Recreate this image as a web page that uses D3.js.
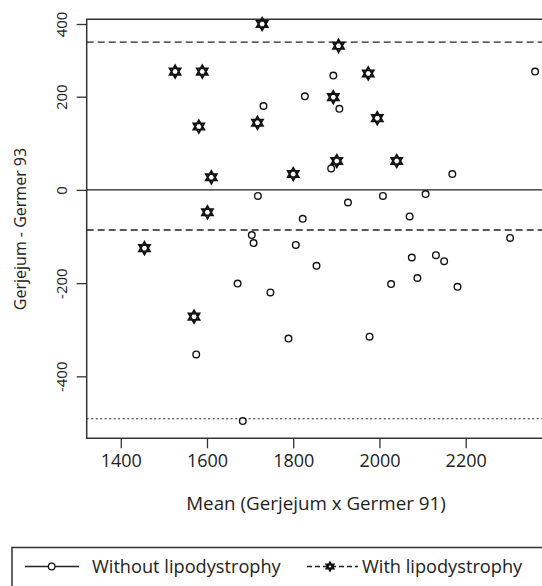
<!DOCTYPE html>
<html lang="en">
<head>
    <meta charset="UTF-8">
    <title>Bland-Altman: Gerjejum vs Germer</title>
    <script src="https://cdnjs.cloudflare.com/ajax/libs/d3/7.8.5/d3.min.js"></script>
    <style>
        body {
            margin: 0;
            overflow: hidden;
            background: #fff;
            font-family: "Open Sans", sans-serif;
        }
    </style>
</head>
<body>
    <script>
        const width = 542;
        const height = 586;

        // Without lipodystrophy: [mean, difference]
        const withoutMean = [1731, 1718, 1704, 1708, 1893, 1827, 1907, 2361, 1888, 2169,
                             2008, 2107, 1927, 1822, 2070, 2303, 1806, 2075, 2131, 2150,
                             1854, 2088, 1671, 1747, 1575, 1683, 1789, 1977, 2027, 2181];
        const withoutDiff = [180, -13, -97, -114, 258, 201, 174, 269, 46, 34,
                             -13, -9, -27, -62, -57, -103, -118, -145, -140, -153,
                             -163, -189, -201, -220, -353, -496, -319, -315, -202, -208];

        // With lipodystrophy
        const withMean = [1455, 1526, 1589, 1581, 1610, 1601, 1728, 1717,
                          1905, 1974, 1893, 1995, 1901, 2040, 1800, 1570];
        const withDiff = [-125, 269, 269, 136, 27, -48, 400, 144,
                          340, 264, 199, 154, 62, 62, 34, -272];

        // Reference lines
        const zeroLine = 0;
        const dashedLines = [350, -86];
        const dottedLine = -491;

        const xTicks = [1400, 1600, 1800, 2000, 2200];
        const yTicks = [400, 200, 0, -200, -400];

        const plotL = 86.7, plotR = 542, plotT = 19.3, plotB = 438.3;

        const svg = d3.select('body')
            .append('svg')
            .attr('width', width)
            .attr('height', height);

        const x = d3.scaleLinear()
            .domain([1321, 2377])
            .range([plotL, plotR]);

        // the printed axis is not quite even above 200, so follow it piecewise
        const y = d3.scaleLinear()
            .domain([-533, 200, 400, 413])
            .range([plotB, 96.7, 24, plotT]);

        const plain = d => String(d);   // keep the hyphen minus of the original

        // axes
        const xAxis = svg.append('g')
            .attr('transform', `translate(0,${plotB})`)
            .call(d3.axisBottom(x).tickValues(xTicks).tickSize(10).tickPadding(6).tickFormat(plain));
        xAxis.select('.domain').remove();
        xAxis.selectAll('text')
            .attr('font-family', '"Open Sans", sans-serif')
            .attr('font-size', 18)
            .attr('fill', '#222');

        const yAxis = svg.append('g')
            .attr('transform', `translate(${plotL},0)`)
            .call(d3.axisLeft(y).tickValues(yTicks).tickSize(10).tickFormat(plain));
        yAxis.select('.domain').remove();
        yAxis.selectAll('.tick text')
            .attr('font-family', '"Open Sans", sans-serif')
            .attr('font-size', 15)
            .attr('fill', '#222')
            .attr('text-anchor', 'middle')
            .attr('x', 0)
            .attr('y', 0)
            .attr('dy', 0)
            .attr('transform', 'translate(-20,0) rotate(-90)');
        svg.selectAll('.tick line').attr('stroke', '#333').attr('stroke-width', 1.3);

        // frame: left, top, bottom
        svg.append('path')
            .attr('d', `M${plotR},${plotT}H${plotL}V${plotB}H${plotR}`)
            .attr('fill', 'none')
            .attr('stroke', '#333')
            .attr('stroke-width', 1.5);

        // reference lines
        svg.append('line')
            .attr('x1', plotL).attr('x2', plotR)
            .attr('y1', y(zeroLine)).attr('y2', y(zeroLine))
            .attr('stroke', '#222').attr('stroke-width', 1.3);

        svg.selectAll('.dash')
            .data(dashedLines)
            .enter()
            .append('line')
            .attr('x1', plotL).attr('x2', plotR)
            .attr('y1', d => y(d)).attr('y2', d => y(d))
            .attr('stroke', '#222').attr('stroke-width', 1.3)
            .attr('stroke-dasharray', '7,4');

        svg.append('line')
            .attr('x1', plotL).attr('x2', plotR)
            .attr('y1', y(dottedLine)).attr('y2', y(dottedLine))
            .attr('stroke', '#222').attr('stroke-width', 1.2)
            .attr('stroke-dasharray', '2,2.5');

        // hexagram made of two triangles
        function starPath(cx, cy, r) {
            const tri = a => d3.range(3).map(i => {
                const t = a + i * 2 * Math.PI / 3;
                return [cx + r * Math.sin(t), cy - r * Math.cos(t)];
            });
            const line = d3.line().curve(d3.curveLinearClosed);
            return line(tri(0)) + line(tri(Math.PI));
        }

        // circles
        svg.selectAll('.without')
            .data(d3.zip(withoutMean, withoutDiff))
            .enter()
            .append('circle')
            .attr('cx', d => x(d[0]))
            .attr('cy', d => y(d[1]))
            .attr('r', 3.3)
            .attr('fill', '#fff')
            .attr('stroke', '#111')
            .attr('stroke-width', 1.4);

        // stars
        svg.selectAll('.with')
            .data(d3.zip(withMean, withDiff))
            .enter()
            .append('path')
            .attr('d', d => starPath(x(d[0]), y(d[1]), 6.3))
            .attr('fill', 'none')
            .attr('stroke', '#111')
            .attr('stroke-width', 1.8)
            .attr('stroke-linejoin', 'miter');

        // axis titles
        svg.append('text')
            .attr('x', 316)
            .attr('y', 510)
            .attr('text-anchor', 'middle')
            .attr('font-size', 18.8)
            .attr('fill', '#222')
            .text('Mean (Gerjejum x Germer 91)');

        svg.append('text')
            .attr('transform', 'translate(26,229) rotate(-90)')
            .attr('text-anchor', 'middle')
            .attr('font-size', 16)
            .attr('fill', '#222')
            .text('Gerjejum - Germer 93');

        // legend
        const legend = svg.append('g');
        legend.append('rect')
            .attr('x', 12).attr('y', 547.5)
            .attr('width', 600).attr('height', 80)
            .attr('fill', 'none')
            .attr('stroke', '#333')
            .attr('stroke-width', 1.5);

        const ly = 566.5;
        legend.append('line')
            .attr('x1', 25).attr('x2', 79).attr('y1', ly).attr('y2', ly)
            .attr('stroke', '#222').attr('stroke-width', 1.3);
        legend.append('circle')
            .attr('cx', 51.7).attr('cy', ly).attr('r', 3.3)
            .attr('fill', '#fff').attr('stroke', '#111').attr('stroke-width', 1.3);
        legend.append('text')
            .attr('x', 92).attr('y', ly + 6)
            .attr('font-size', 18.2)
            .attr('fill', '#222')
            .text('Without lipodystrophy');

        legend.append('line')
            .attr('x1', 307).attr('x2', 358).attr('y1', ly).attr('y2', ly)
            .attr('stroke', '#222').attr('stroke-width', 1.3)
            .attr('stroke-dasharray', '5,3');
        legend.append('path')
            .attr('d', starPath(330, ly, 4))
            .attr('fill', '#fff')
            .attr('stroke', '#111')
            .attr('stroke-width', 2);
        legend.append('text')
            .attr('x', 362).attr('y', ly + 6)
            .attr('font-size', 18.2)
            .attr('fill', '#222')
            .text('With lipodystrophy');
    </script>
</body>
</html>
